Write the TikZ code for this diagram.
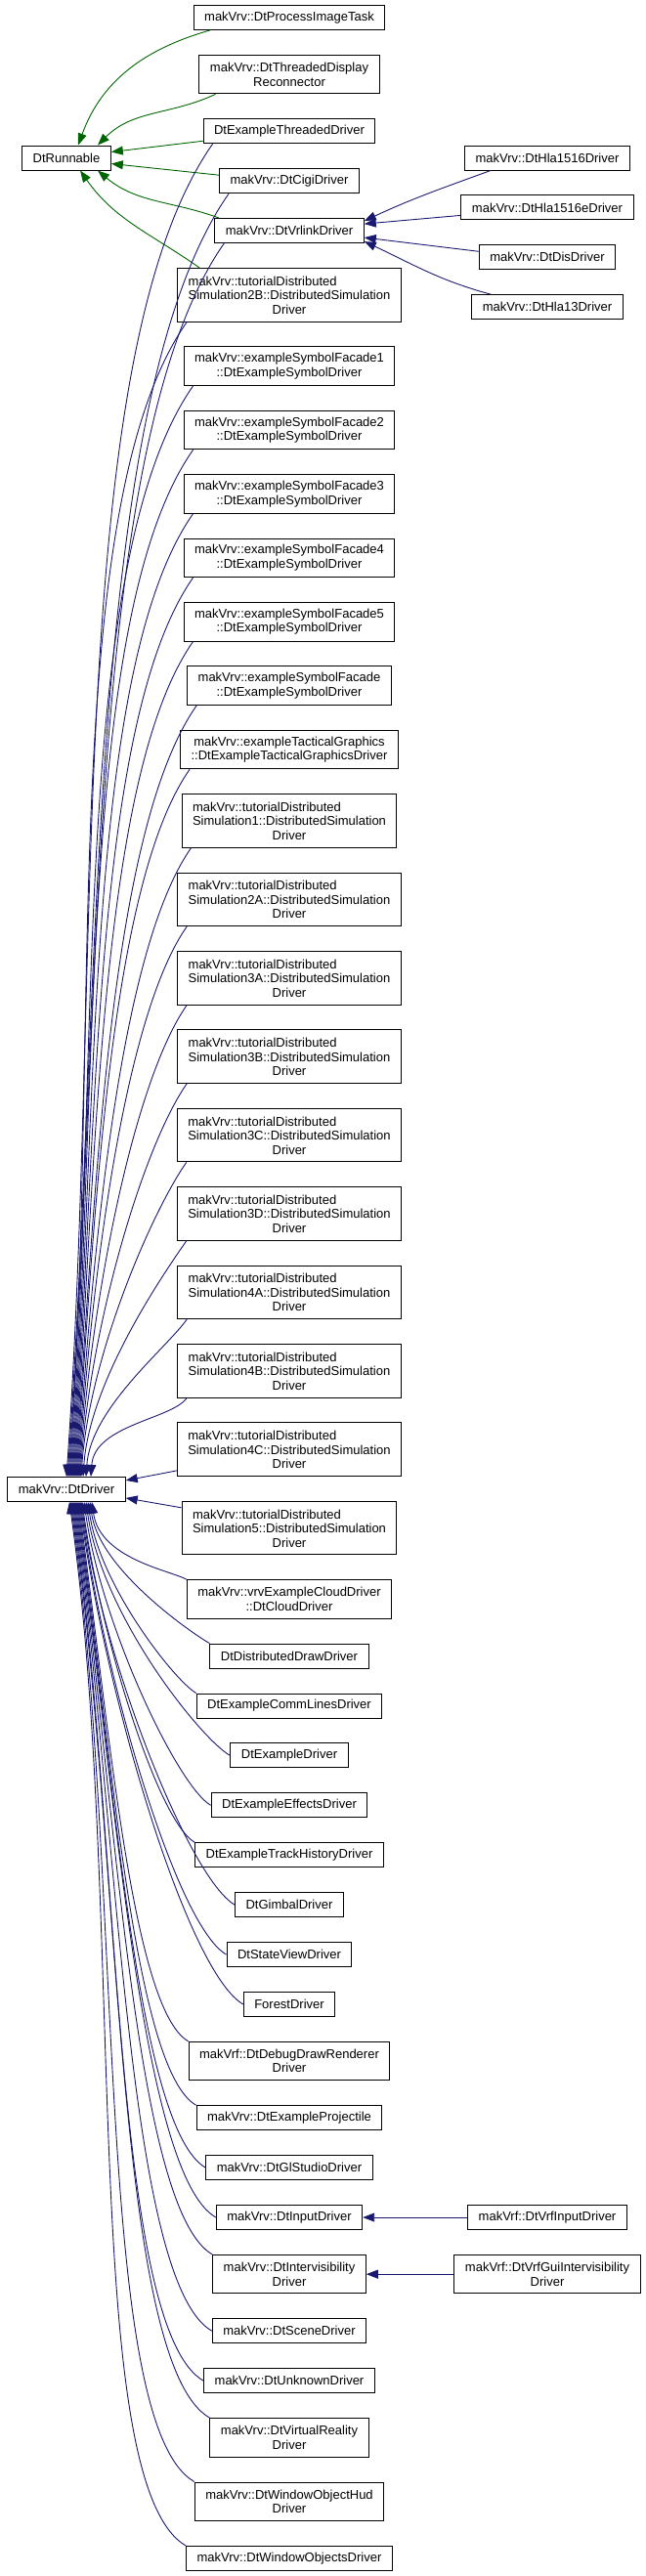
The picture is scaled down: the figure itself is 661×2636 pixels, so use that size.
\documentclass[tikz,border=0pt]{standalone}
\usepackage{fontspec}
\setmainfont{Liberation Sans}
\usetikzlibrary{positioning,arrows.meta}
\definecolor{drvblue}{HTML}{191970}
\definecolor{rungreen}{HTML}{006400}
\newcommand{\tutsim}[1]{\begin{tabular}[b]{@{}l@{}}makVrv::tutorialDistributed\\Simulation#1::DistributedSimulation\end{tabular}\\Driver}

\begin{document}
\begin{tikzpicture}[x=1pt, y=1pt, node distance=24.9pt, >={Triangle[length=12pt,width=9pt]},
                    box/.style={draw, line width=1pt, inner xsep=11pt, minimum height=25pt,
                                font=\fontsize{13}{14.5}\selectfont, align=center},
                    box2/.style={box, minimum height=39.5pt},
                    box3/.style={box, minimum height=54.5pt},
                    drvline/.style={<-, draw=drvblue, line width=0.9pt},
                    runline/.style={<-, draw=rungreen, line width=0.9pt}]
\useasboundingbox (0,0) rectangle (661,-2636);

\node[box] (run) at (68,-161.5) {DtRunnable};

\node[box] (pit) at (296,-18) {makVrv::DtProcessImageTask};
\node[box2, below=of pit] (recon) {makVrv::DtThreadedDisplay\\Reconnector};
\node[box, below=of recon] (tdrv) {DtExampleThreadedDriver};
\node[box, below=of tdrv] (cigi) {makVrv::DtCigiDriver};
\node[box, below=of cigi] (vrlink) {makVrv::DtVrlinkDriver};
\node[box3, below=of vrlink] (tut2b) {\tutsim{2B}};
\node[box2, below=of tut2b] (sf1) {makVrv::exampleSymbolFacade1\\::DtExampleSymbolDriver};
\node[box2, below=of sf1] (sf2) {makVrv::exampleSymbolFacade2\\::DtExampleSymbolDriver};
\node[box2, below=of sf2] (sf3) {makVrv::exampleSymbolFacade3\\::DtExampleSymbolDriver};
\node[box2, below=of sf3] (sf4) {makVrv::exampleSymbolFacade4\\::DtExampleSymbolDriver};
\node[box2, below=of sf4] (sf5) {makVrv::exampleSymbolFacade5\\::DtExampleSymbolDriver};
\node[box2, below=of sf5] (sf) {makVrv::exampleSymbolFacade\\::DtExampleSymbolDriver};
\node[box2, below=of sf] (tact) {makVrv::exampleTacticalGraphics\\::DtExampleTacticalGraphicsDriver};
\node[box3, below=of tact] (tut1) {\tutsim{1}};
\node[box3, below=of tut1] (tut2a) {\tutsim{2A}};
\node[box3, below=of tut2a] (tut3a) {\tutsim{3A}};
\node[box3, below=of tut3a] (tut3b) {\tutsim{3B}};
\node[box3, below=of tut3b] (tut3c) {\tutsim{3C}};
\node[box3, below=of tut3c] (tut3d) {\tutsim{3D}};
\node[box3, below=of tut3d] (tut4a) {\tutsim{4A}};
\node[box3, below=of tut4a] (tut4b) {\tutsim{4B}};
\node[box3, below=of tut4b] (tut4c) {\tutsim{4C}};
\node[box3, below=of tut4c] (tut5) {\tutsim{5}};
\node[box2, below=of tut5] (cloud) {makVrv::vrvExampleCloudDriver\\::DtCloudDriver};
\node[box, below=of cloud] (ddraw) {DtDistributedDrawDriver};
\node[box, below=of ddraw] (comm) {DtExampleCommLinesDriver};
\node[box, below=of comm] (exdrv) {DtExampleDriver};
\node[box, below=of exdrv] (effects) {DtExampleEffectsDriver};
\node[box, below=of effects] (track) {DtExampleTrackHistoryDriver};
\node[box, below=of track] (gimbal) {DtGimbalDriver};
\node[box, below=of gimbal] (stview) {DtStateViewDriver};
\node[box, below=of stview] (forest) {ForestDriver};
\node[box2, below=of forest] (debug) {makVrf::DtDebugDrawRenderer\\Driver};
\node[box, below=of debug] (proj) {makVrv::DtExampleProjectile};
\node[box, below=of proj] (glst) {makVrv::DtGlStudioDriver};
\node[box, below=of glst] (input) {makVrv::DtInputDriver};
\node[box2, below=of input] (intervis) {makVrv::DtIntervisibility\\Driver};
\node[box, below=of intervis] (scene) {makVrv::DtSceneDriver};
\node[box, below=of scene] (unknown) {makVrv::DtUnknownDriver};
\node[box2, below=of unknown] (vr) {makVrv::DtVirtualReality\\Driver};
\node[box2, below=of vr] (hud) {makVrv::DtWindowObjectHud\\Driver};
\node[box, below=of hud] (winobj) {makVrv::DtWindowObjectsDriver};

\node[box, anchor=north] (drv) at (tut4c.south -| run) {makVrv::DtDriver};

\node[box] (h1516) at (560,-161.5) {makVrv::DtHla1516Driver};
\node[box, below=of h1516] (h1516e) {makVrv::DtHla1516eDriver};
\node[box, below=of h1516e] (dis) {makVrv::DtDisDriver};
\node[box, below=of dis] (h13) {makVrv::DtHla13Driver};
\node[box] (vrfin) at (input -| h1516) {makVrf::DtVrfInputDriver};
\node[box2] (vrfgui) at (intervis -| h1516) {makVrf::DtVrfGuiIntervisibility\\Driver};

% DtRunnable
\draw[runline] ([xshift=12pt]run.north) to[out=70, in=196] ([xshift=17pt]pit.south west);
\draw[runline] ([xshift=32pt]run.north) to[out=45, in=205] ([xshift=17pt]recon.south west);
\draw[runline] ([yshift=6pt]run.east) -- ([yshift=-10pt]tdrv.west);
\draw[runline] ([yshift=-6pt]run.east) -- ([yshift=6pt]cigi.west);
\draw[runline] ([xshift=32pt]run.south) to[out=-40, in=160] ([xshift=5pt]vrlink.north west);
\draw[runline] ([xshift=14pt]run.south) to[out=-55, in=145] ([xshift=23pt]tut2b.north west);

% DtVrlinkDriver
\draw[drvline] ([yshift=10pt]vrlink.east) to[out=25, in=200] ([xshift=27pt]h1516.south west);
\draw[drvline] ([yshift=7pt]vrlink.east) -- ([yshift=-8pt]h1516e.west);
\draw[drvline] ([yshift=-7pt]vrlink.east) -- ([yshift=6pt]dis.west);
\draw[drvline] ([yshift=-11pt]vrlink.east) to[out=-25, in=165] ([xshift=20pt]h13.north west);

\draw[drvline] (input.east) -- (vrfin.west);
\draw[drvline] (intervis.east) -- (vrfgui.west);

% DtDriver
\foreach \c/\dx/\d in {tdrv/0/530, cigi/1/510, vrlink/2/490, tut2b/3/460, sf1/4/434, sf2/5/408,
                       sf3/6/383, sf4/7/357, sf5/8/332, sf/9/307, tact/10/281, tut1/11/249,
                       tut2a/12/218, tut3a/13/187, tut3b/14/156, tut3c/15/124, tut3d/17/96,
                       tut4a/20/70, tut4b/25/53}
  \draw[drvline] ([xshift=\dx pt]drv.north) .. controls +(86:\d) and +(235:{0.5*\d}) .. ([xshift=10pt]\c.south west);
\draw[drvline] ([yshift=9pt]drv.east) -- ([yshift=6pt]tut4c.south west);
\draw[drvline] ([yshift=-9pt]drv.east) -- ([yshift=-7pt]tut5.north west);
\foreach \c/\a/\dx/\d in {cloud/north west/26/59, ddraw/north west/24/70, comm/north west/22/86,
                          exdrv/west/20/117, effects/west/18/129, track/north west/16/143,
                          gimbal/west/15/172, stview/west/14/192, forest/west/13/213,
                          debug/north west/12/223, proj/north west/11/247, glst/west/10/272,
                          input/west/9/294, intervis/north west/8/307, scene/west/7/337,
                          unknown/west/6/356, vr/north west/5/372, hud/north west/4/396,
                          winobj/north west/3/422}
  \draw[drvline] ([xshift=\dx pt]drv.south) .. controls +(-82:\d) and +(150:{0.3*\d}) .. (\c.\a);
\end{tikzpicture}
\end{document}
